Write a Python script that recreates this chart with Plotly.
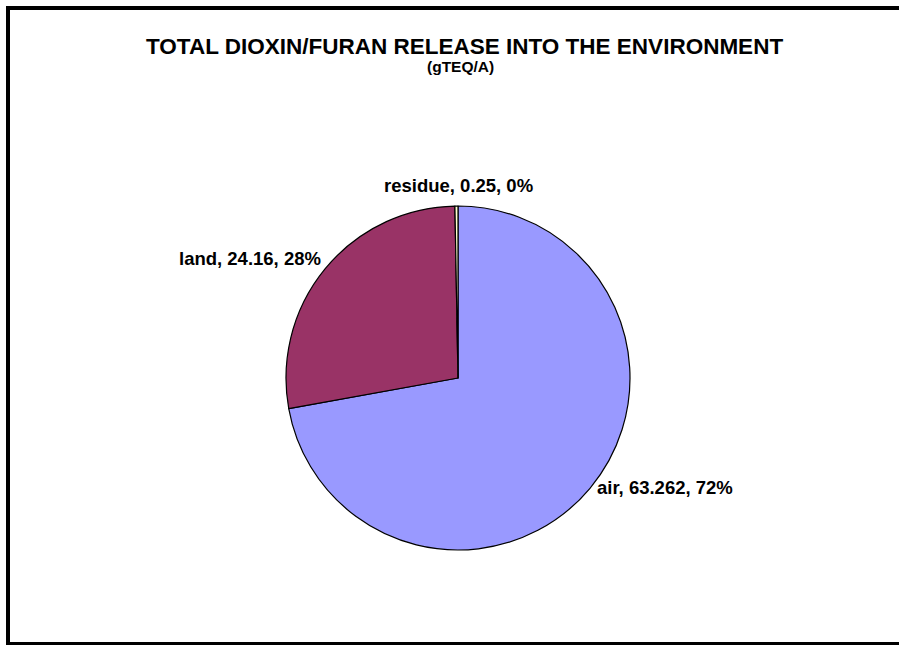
import math
import plotly.graph_objects as go

labels = ["air", "land", "residue"]
values = [63.262, 24.16, 0.25]
colors = ["#9999FF", "#993366", "#FFFFCC"]
title_text = "TOTAL DIOXIN/FURAN RELEASE INTO THE ENVIRONMENT"
subtitle_text = "(gTEQ/A)"

W, H = 899, 646
FONT = "Liberation Sans, Arial, sans-serif"
LABEL_SIZE = 18.5

def px(x):
    return x / W

def py(y):
    return 1 - y / H

# pie geometry (pixels)
PIE_L, PIE_R, PIE_T, PIE_B = 286, 630, 205, 551
CX, CY = (PIE_L + PIE_R) / 2, (PIE_T + PIE_B) / 2
R = min(PIE_R - PIE_L, PIE_B - PIE_T) / 2

total = sum(values)
label_texts = [f"{l}, {v}, {round(100 * v / total)}%" for l, v in zip(labels, values)]

fig = go.Figure(go.Pie(
    labels=labels,
    values=values,
    marker=dict(colors=colors, line=dict(color="black", width=1.2)),
    sort=False,
    direction="clockwise",
    rotation=0,
    textinfo="none",
    hoverinfo="none",
    showlegend=False,
    domain=dict(x=[px(PIE_L), px(PIE_R)], y=[py(PIE_B), py(PIE_T)]),
))

annotations = [
    dict(text=title_text, xref="paper", yref="paper", x=px(464), y=py(46.5),
         xanchor="center", yanchor="middle", showarrow=False,
         font=dict(family=FONT, size=22.5, color="black", weight="bold")),
    dict(text=subtitle_text, xref="paper", yref="paper", x=px(461), y=py(67),
         xanchor="center", yanchor="middle", showarrow=False,
         font=dict(family=FONT, size=15.5, color="black", weight="bold")),
    dict(text=",", xref="paper", yref="paper", x=px(722), y=py(-2),
         xanchor="center", yanchor="bottom", showarrow=False,
         font=dict(family=FONT, size=16, color="black", weight="bold")),
]

# outside-end data labels, placed at each slice's mid-angle (clockwise from 12 o'clock)
cum = 0.0
for t, v in zip(label_texts, values):
    mid = (cum + v / 2) / total
    cum += v
    th = 2 * math.pi * mid
    ux, uy = math.sin(th), -math.cos(th)
    ex, ey = CX + R * ux, CY + R * uy
    if abs(ux) < 0.15:
        ax, xa, ay = CX, "center", ey - 21 if uy < 0 else ey + 21
    elif ux > 0:
        ax, xa, ay = ex + 5, "left", ey - 1 if uy > 0 else ey - 10
    else:
        ax, xa, ay = ex - 2, "right", ey - 1 if uy > 0 else ey - 10
    annotations.append(dict(
        text=t, xref="paper", yref="paper", x=px(ax), y=py(ay),
        xanchor=xa, yanchor="middle", showarrow=False,
        font=dict(family=FONT, size=LABEL_SIZE, color="black", weight="bold")))

fig.update_layout(
    width=W, height=H,
    margin=dict(l=0, r=0, t=0, b=0),
    paper_bgcolor="white",
    plot_bgcolor="white",
    shapes=[
        dict(type="line", xref="paper", yref="paper", x0=px(6), x1=px(905), y0=py(8), y1=py(8),
             line=dict(color="black", width=4)),
        dict(type="line", xref="paper", yref="paper", x0=px(8), x1=px(8), y0=py(6), y1=py(645),
             line=dict(color="black", width=4)),
        dict(type="line", xref="paper", yref="paper", x0=px(6), x1=px(905), y0=py(643.5), y1=py(643.5),
             line=dict(color="black", width=3)),
    ],
    annotations=annotations,
)

fig.write_html(
    "out.html",
    config=dict(displayModeBar=False),
    post_script="document.body.style.margin='0';document.body.style.overflow='hidden';",
)
